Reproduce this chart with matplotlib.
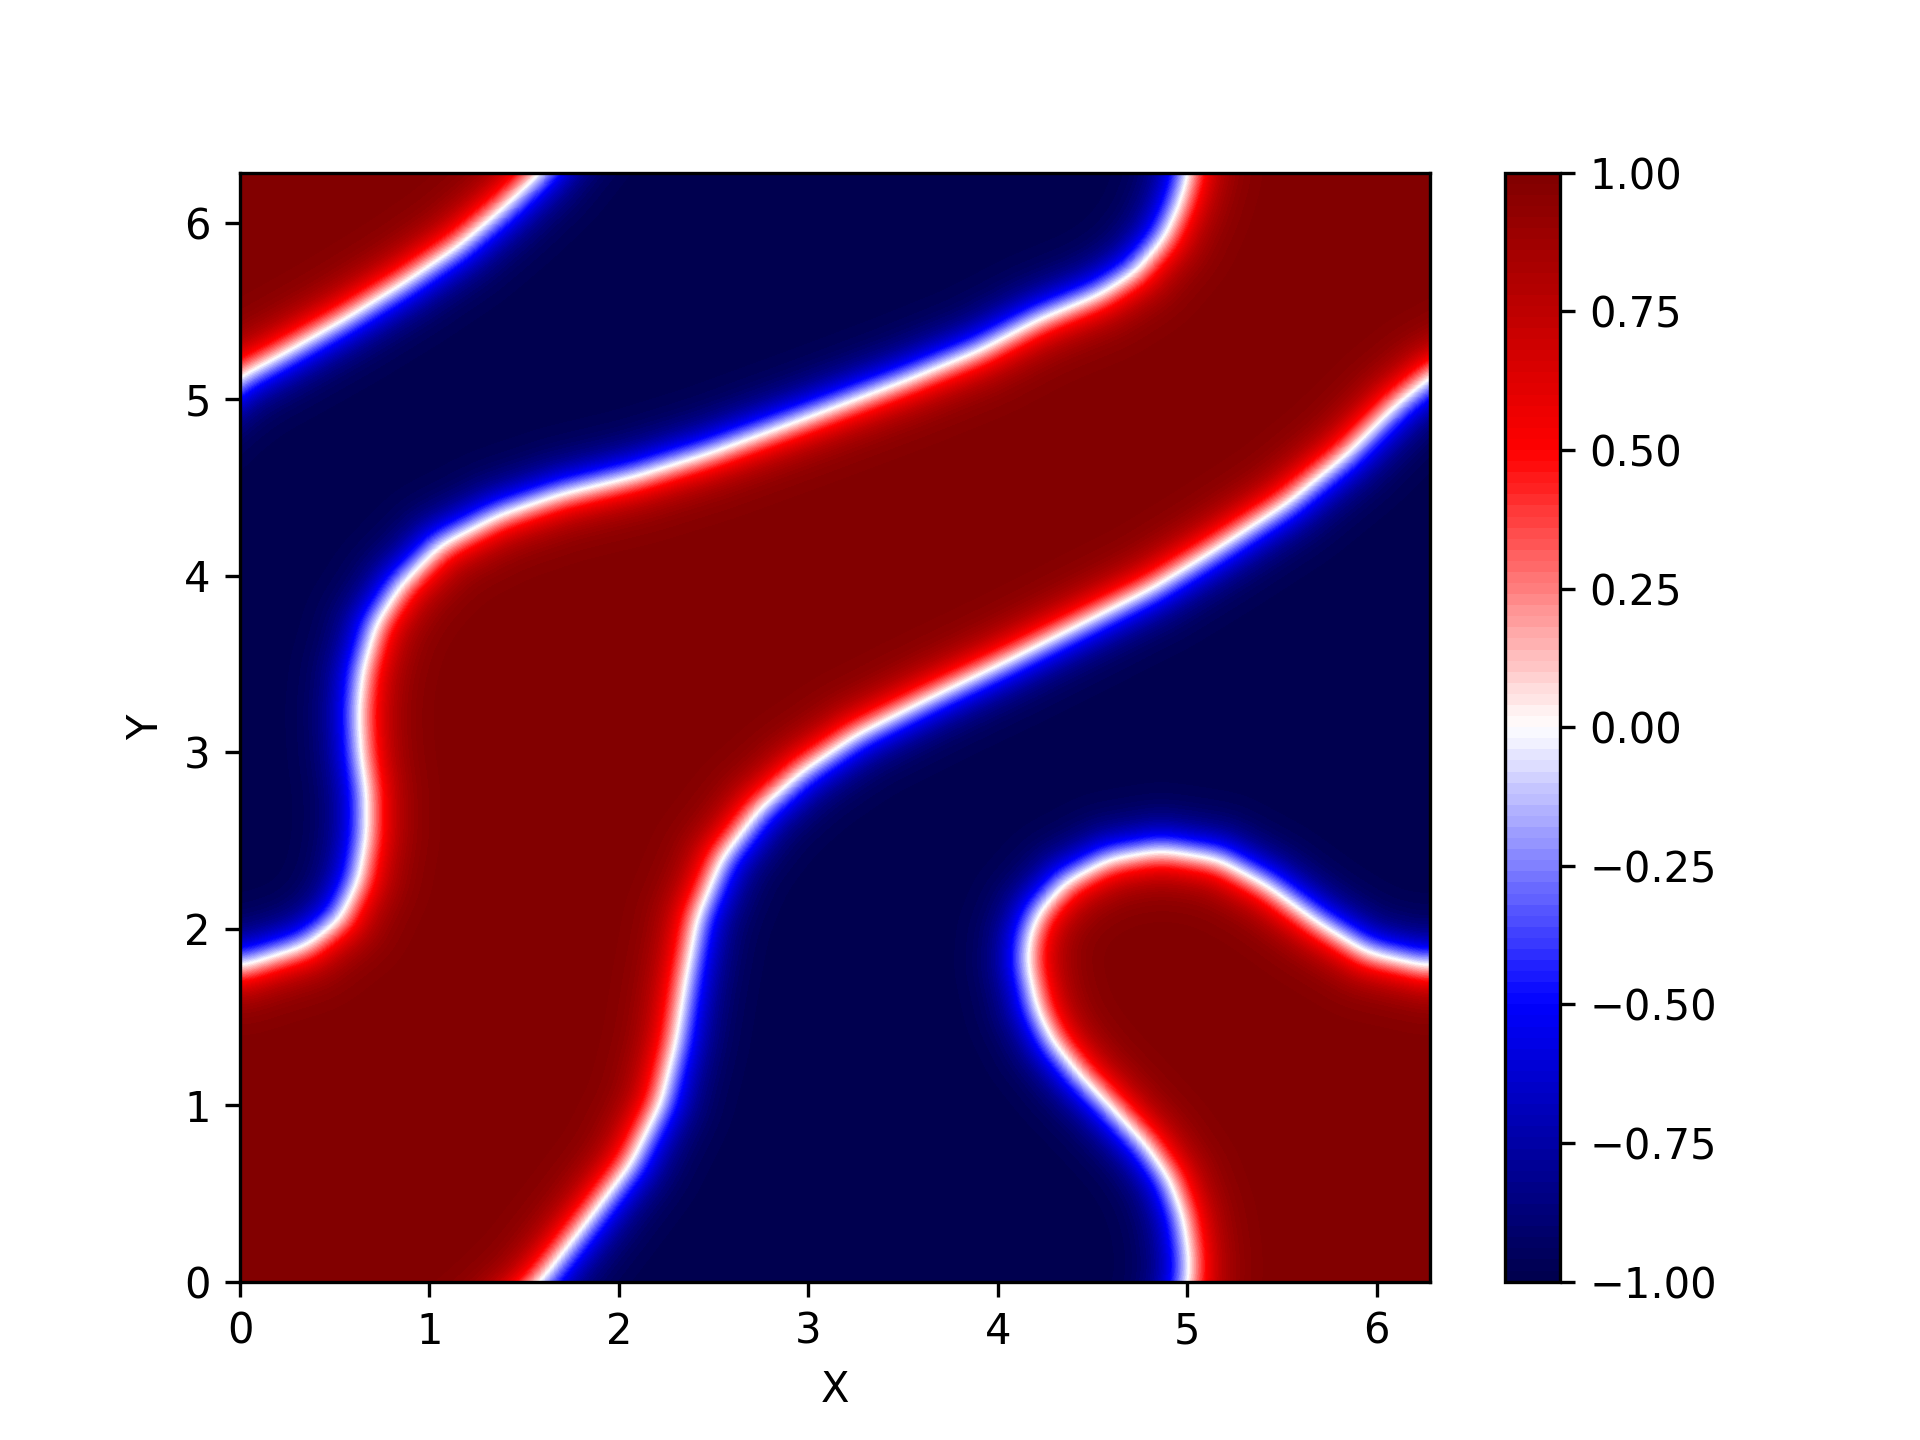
import numpy as np
import matplotlib
matplotlib.use("Agg")
import matplotlib.pyplot as plt
from matplotlib.path import Path

L = 2 * np.pi

# interface (u = 0), (x, y) in data units
# curve A: lower part, from the bottom edge up to the right edge
curve_a_low_x = [1.58, 1.82, 2.06, 2.22, 2.30, 2.35, 2.41, 2.54, 2.74, 2.96, 3.25, 3.64,
                 4.03, 4.42, 4.81, 5.13, 5.52, 5.84, 6.10, L]
curve_a_low_y = [0.00, 0.33, 0.67, 1.02, 1.37, 1.71, 2.06, 2.40, 2.68, 2.89, 3.10, 3.31,
                 3.51, 3.72, 3.93, 4.14, 4.41, 4.69, 4.97, 5.13]
# curve A: top-left part, from the left edge to the top edge
curve_a_top_x = [0.00, 0.21, 0.54, 0.86, 1.15, 1.38, 1.58]
curve_a_top_y = [5.13, 5.25, 5.45, 5.66, 5.87, 6.08, L]
# curve B: from the left edge, up the S bend, to the top edge
curve_b_up_x = [0.00, 0.11, 0.35, 0.53, 0.63, 0.67, 0.67, 0.64, 0.63, 0.65, 0.72, 0.85,
                1.06, 1.37, 1.70, 2.09, 2.48, 2.99, 3.51, 3.90, 4.22, 4.54, 4.73, 4.88,
                4.96, 5.01]
curve_b_up_y = [1.78, 1.82, 1.90, 2.05, 2.28, 2.53, 2.77, 3.00, 3.23, 3.45, 3.72, 3.94,
                4.17, 4.34, 4.46, 4.56, 4.69, 4.89, 5.10, 5.27, 5.45, 5.59, 5.72, 5.91,
                6.10, L]
# curve B: bump, from the bottom edge to the right edge
curve_b_low_x = [5.01, 5.01, 4.98, 4.91, 4.79, 4.61, 4.43, 4.29, 4.21, 4.16, 4.17, 4.22,
                 4.36, 4.59, 4.86, 5.16, 5.42, 5.69, 5.95, L]
curve_b_low_y = [0.00, 0.16, 0.37, 0.58, 0.77, 0.98, 1.18, 1.37, 1.55, 1.80, 1.95, 2.09,
                 2.26, 2.39, 2.44, 2.39, 2.24, 2.03, 1.86, 1.78]

width = 0.17
n = 400
xs = np.linspace(0, L, n)
ys = np.linspace(0, L, n)
X, Y = np.meshgrid(xs, ys)
px, py = X.ravel(), Y.ravel()

# distance to the interface, with periodic copies
curves = [(curve_a_low_x, curve_a_low_y), (curve_a_top_x, curve_a_top_y),
          (curve_b_up_x, curve_b_up_y), (curve_b_low_x, curve_b_low_y)]
dist = np.full(px.shape, np.inf)
for cx, cy in curves:
    cx, cy = np.asarray(cx), np.asarray(cy)
    for sx in (-L, 0, L):
        for sy in (-L, 0, L):
            for x0, y0, x1, y1 in zip(cx[:-1] + sx, cy[:-1] + sy, cx[1:] + sx, cy[1:] + sy):
                dx, dy = x1 - x0, y1 - y0
                t = np.clip(((px - x0) * dx + (py - y0) * dy) / (dx * dx + dy * dy), 0, 1)
                dist = np.minimum(dist, np.hypot(px - (x0 + t * dx), py - (y0 + t * dy)))

# blue (u < 0) regions as polygons, closed outside the box
blue1 = (list(zip(curve_a_low_x, curve_a_low_y)) + [(L + 1, 5.13), (L + 1, 1.78)]
         + list(zip(curve_b_low_x[::-1], curve_b_low_y[::-1])) + [(5.01, -1), (1.58, -1)])
blue2 = (list(zip(curve_b_up_x, curve_b_up_y)) + [(5.01, L + 1), (1.58, L + 1)]
         + list(zip(curve_a_top_x[::-1], curve_a_top_y[::-1])) + [(-1, 5.13), (-1, 1.78)])
pts = np.column_stack([px, py])
inside = Path(blue1).contains_points(pts) | Path(blue2).contains_points(pts)
sd = (np.where(inside, -1.0, 1.0) * dist).reshape(X.shape)

# soften the polyline corners with a small periodic gaussian blur
h = L / (n - 1)
k = np.fft.fftfreq(n - 1, d=h) * 2 * np.pi
sig = 0.06
G = np.exp(-0.5 * sig ** 2 * (k[None, :] ** 2 + k[:, None] ** 2))
core = sd[:-1, :-1]
sm = np.real(np.fft.ifft2(np.fft.fft2(core) * G))
sd_s = np.empty_like(sd)
sd_s[:-1, :-1] = sm
sd_s[-1, :-1] = sm[0, :]
sd_s[:-1, -1] = sm[:, 0]
sd_s[-1, -1] = sm[0, 0]

U = np.clip(np.tanh(sd_s / width), -1, 1)

fig = plt.figure(figsize=(6.4, 4.8), dpi=300)
ax = fig.add_subplot(111)
cf = ax.contourf(X, Y, U, levels=np.linspace(-1, 1, 101), cmap="seismic")
cbar = fig.colorbar(cf, ax=ax)
cbar.set_ticks(np.linspace(-1, 1, 9))
ax.set_xlabel("X")
ax.set_ylabel("Y")
fig.savefig("out.png", dpi=300)
